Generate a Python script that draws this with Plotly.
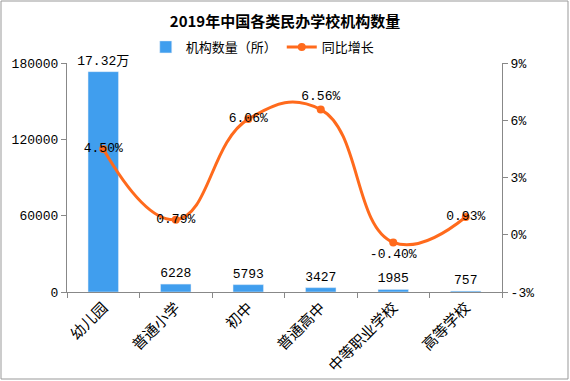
import plotly.graph_objects as go

categories = ["幼儿园", "普通小学", "初中", "普通高中", "中等职业学校", "高等学校"]
counts = [173200, 6228, 5793, 3427, 1985, 757]
count_labels = ["17.32万", "6228", "5793", "3427", "1985", "757"]
growth = [4.50, 0.79, 6.06, 6.56, -0.40, 0.93]
growth_labels = ["4.50%", "0.79%", "6.06%", "6.56%", "-0.40%", "0.93%"]
growth_pos = ["middle center", "middle center", "middle center", "top center", "bottom center", "middle center"]
left_ticks = [0, 60000, 120000, 180000]
right_ticks = [-3, 0, 3, 6, 9]
right_tick_text = ["-3%", "0%", "3%", "6%", "9%"]

mono = "Liberation Mono, Noto Sans CJK SC"
cjk = "Noto Sans CJK SC"

fig = go.Figure()
fig.add_trace(go.Bar(
    x=categories, y=counts, name="机构数量（所）",
    marker_color="#409EEE", width=0.42,
    text=count_labels, textposition="outside", cliponaxis=False, constraintext="none",
    textfont=dict(family=mono, size=13, color="#000"),
))
fig.add_trace(go.Scatter(
    x=categories, y=growth, name="同比增长", yaxis="y2",
    mode="lines+markers+text",
    line=dict(color="#FF6A1C", width=3, shape="spline", smoothing=1.3),
    marker=dict(color="#FF6A1C", size=8),
    text=growth_labels, textposition=growth_pos, cliponaxis=False,
    textfont=dict(family=mono, size=13, color="#000"),
))

axis_col = "#888888"
fig.update_layout(
    width=570, height=381,
    margin=dict(l=67, r=68, t=63, b=89),
    paper_bgcolor="white", plot_bgcolor="white",
    title=dict(text="<b>2019年中国各类民办学校机构数量</b>", x=0.5, xanchor="center",
               y=1 - 22 / 381, yanchor="middle", yref="container",
               font=dict(family=cjk, size=15, color="#000")),
    showlegend=True,
    legend=dict(orientation="h", x=0.45, xanchor="center", y=1.07, yanchor="middle",
                font=dict(family=cjk, size=13, color="#000"), bgcolor="rgba(0,0,0,0)",
                itemwidth=30),
    bargap=0.58,
    xaxis=dict(showline=True, linecolor=axis_col, ticks="outside", tickcolor=axis_col,
               ticklen=5, tickson="boundaries", tickangle=-45, showgrid=False,
               automargin=False,
               tickfont=dict(family=cjk, size=15, color="#000")),
    yaxis=dict(range=[0, 180000], tickvals=left_ticks, tickformat="d", showline=True,
               linecolor=axis_col, ticks="outside", tickcolor=axis_col, ticklen=5,
               showgrid=False, zeroline=False, automargin=False,
               tickfont=dict(family=mono, size=13, color="#000")),
    yaxis2=dict(range=[-3, 9], tickvals=right_ticks, ticktext=right_tick_text,
                tickmode="array", overlaying="y",
                side="right", showline=True, linecolor=axis_col, ticks="outside",
                tickcolor=axis_col, ticklen=5, showgrid=False, zeroline=False,
                automargin=False,
                tickfont=dict(family=mono, size=13, color="#000")),
    shapes=[dict(type="rect", xref="paper", yref="paper",
                 x0=(1 - 67) / 435, x1=(568 - 67) / 435,
                 y0=(292 - 379) / 229, y1=(292 - 1) / 229,
                 line=dict(color="#999999", width=1), fillcolor="rgba(0,0,0,0)", layer="below")],
)

fig.write_html("out.html", config={"displayModeBar": False},
               post_script="document.body.style.margin='0';document.body.style.overflow='hidden';")
